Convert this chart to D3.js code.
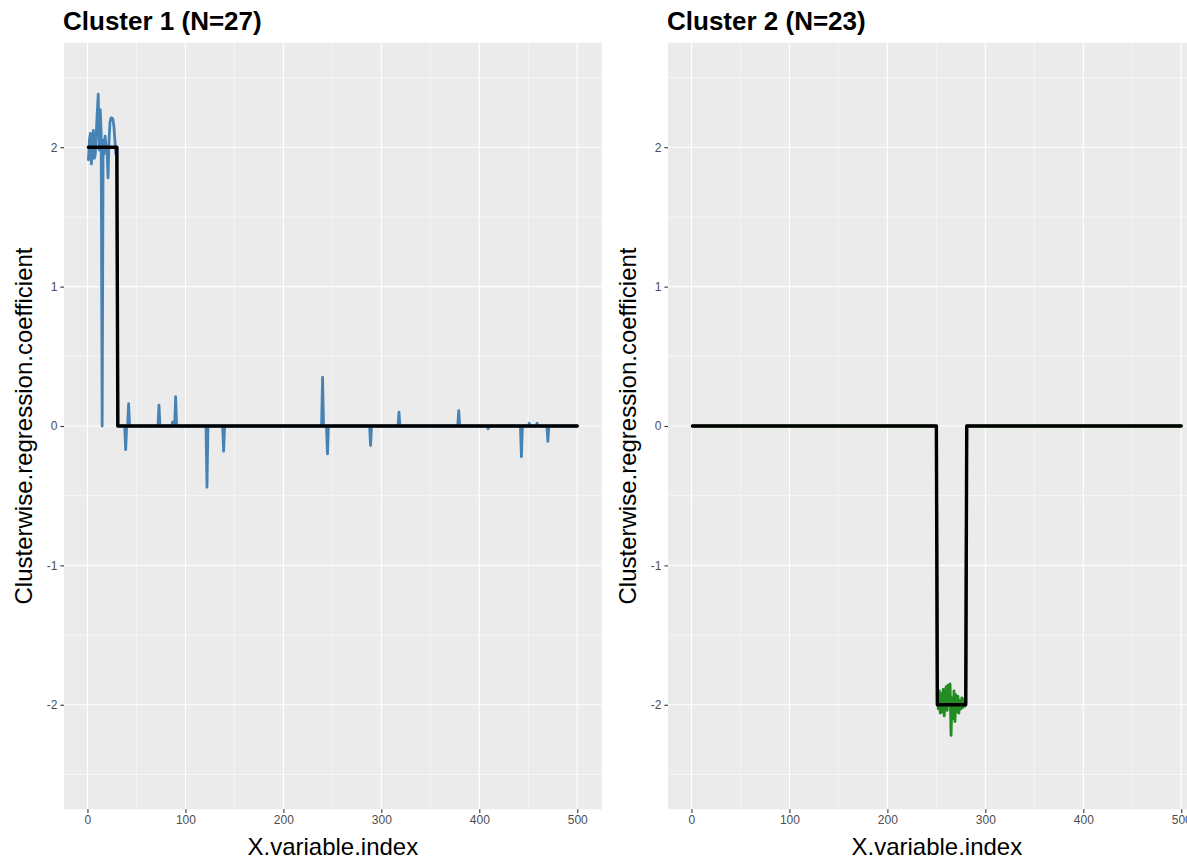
<!DOCTYPE html>
<html>
<head>
    <meta charset="utf-8">
    <title>Clusterwise regression coefficients</title>
    <script type="text/javascript" src="https://cdn.jsdelivr.net/npm/d3@7"></script>
    <style>
        body { margin: 0; background: #fff; }
        svg text { font-family: "Liberation Sans", Arial, Helvetica, sans-serif; }
        .panel-bg { fill: #EBEBEB; }
        .grid-major { stroke: #fff; stroke-width: 1.1; }
        .grid-minor { stroke: #fff; stroke-width: 0.55; }
        .axis .tick line { stroke: #333; stroke-width: 1.1; }
        .axis .tick text { fill: #4D4D4D; font-size: 12px; }
        .axis path.domain { display: none; }
        .est-line, .true-line { fill: none; stroke-linejoin: round; stroke-linecap: round; }
    </style>
</head>

<body>

<script type="text/javascript">
    // number of X variables (index 1..500)
    var nVars = 500;

    // cluster 1 - estimated coefficients for variables 1..30
    var c1HeadEst = [1.91, 2.05, 2.10, 1.88, 2.00, 2.12, 1.92, 1.95, 2.10, 2.25,
                     2.38, 1.98, 2.27, 2.10, 0.00, 2.05, 1.95, 2.08, 2.00, 1.98,
                     1.78, 2.05, 2.18, 2.21, 2.21, 2.20, 2.15, 2.05, 1.95, 2.00];
    // cluster 1 - isolated non-zero estimates after variable 30
    var c1SpikeIdx = [39, 42, 73, 87, 90, 122, 139, 240, 245, 289, 318, 379, 409, 443, 451, 459, 470];
    var c1SpikeVal = [-0.17, 0.16, 0.15, 0.03, 0.21, -0.44, -0.18, 0.35, -0.20, -0.14,
                      0.10, 0.11, -0.02, -0.22, 0.02, 0.02, -0.11];

    // cluster 2 - estimated coefficients for variables 251..280
    var c2BlockStart = 251;
    var c2BlockEst = [-1.97, -2.03, -1.90, -2.06, -1.92, -2.05, -1.89, -2.08, -1.93, -1.87,
                      -2.04, -1.86, -1.98, -1.85, -2.22, -1.95, -2.10, -1.90, -2.12, -1.93,
                      -2.05, -1.94, -2.06, -1.97, -2.03, -1.95, -2.02, -1.96, -2.01, -1.98];

    // true coefficients: constant blocks, zero elsewhere
    var c1TrueBlocks = [{from: 1, to: 30, value: 2}];
    var c2TrueBlocks = [{from: 251, to: 280, value: -2}];

    var panelTitles = ["Cluster 1 (N=27)", "Cluster 2 (N=23)"];
    var estColors = ["#4682B4", "#228B22"];
    var xTicks = [0, 100, 200, 300, 400, 500],
        xMinorTicks = [50, 150, 250, 350, 450];
    var yTicks = [-2, -1, 0, 1, 2],
        yMinorTicks = [-2.5, -1.5, -0.5, 0.5, 1.5, 2.5];
    var xTitle = "X.variable.index",
        yTitle = "Clusterwise.regression.coefficient";

    // helpers to turn the sparse readings into full series over 1..nVars
    function zeroSeries() {
        return d3.range(1, nVars + 1).map(function (i) { return {x: i, y: 0}; });
    }
    function blocksToSeries(blocks) {
        var s = zeroSeries();
        blocks.forEach(function (b) {
            for (var i = b.from; i <= b.to; ++i) s[i - 1].y = b.value;
        });
        return s;
    }

    var est1 = zeroSeries();
    c1HeadEst.forEach(function (v, k) { est1[k].y = v; });
    c1SpikeIdx.forEach(function (idx, k) { est1[idx - 1].y = c1SpikeVal[k]; });

    var est2 = zeroSeries();
    c2BlockEst.forEach(function (v, k) { est2[c2BlockStart - 1 + k].y = v; });

    var panels = [
        {title: panelTitles[0], est: est1, truth: blocksToSeries(c1TrueBlocks), color: estColors[0]},
        {title: panelTitles[1], est: est2, truth: blocksToSeries(c2TrueBlocks), color: estColors[1]}
    ];

    var width = 1187, height = 859;
    var panelTop = 42.7, panelBottom = 809.3, panelWidth = 537.7;
    var panelLefts = [64, 668];

    var svg = d3.select("body").append("svg")
            .attr("width", width)
            .attr("height", height);

    // shared scales (ggplot style 5% expansion)
    var x = d3.scaleLinear().domain([1 - 0.05 * 499, 500 + 0.05 * 499]).range([0, panelWidth]);
    var y = d3.scaleLinear().domain([-2.75, 2.75]).range([panelBottom - panelTop, 0]);

    var line = d3.line()
            .x(function (d) { return x(d.x); })
            .y(function (d) { return y(d.y); });

    // plain labels with an ascii hyphen for negatives
    function plainLabel(d) { return String(d); }

    panels.forEach(function (p, i) {
        var left = panelLefts[i];
        var ph = panelBottom - panelTop;

        var g = svg.append("g")
                .attr("transform", "translate(" + left + "," + panelTop + ")");

        g.append("rect")
                .attr("class", "panel-bg")
                .attr("width", panelWidth)
                .attr("height", ph);

        // gridlines, minor first
        g.selectAll("line.gx-minor").data(xMinorTicks).enter().append("line")
                .attr("class", "grid-minor")
                .attr("x1", x).attr("x2", x).attr("y1", 0).attr("y2", ph);
        g.selectAll("line.gy-minor").data(yMinorTicks).enter().append("line")
                .attr("class", "grid-minor")
                .attr("y1", y).attr("y2", y).attr("x1", 0).attr("x2", panelWidth);
        g.selectAll("line.gx-major").data(xTicks).enter().append("line")
                .attr("class", "grid-major")
                .attr("x1", x).attr("x2", x).attr("y1", 0).attr("y2", ph);
        g.selectAll("line.gy-major").data(yTicks).enter().append("line")
                .attr("class", "grid-major")
                .attr("y1", y).attr("y2", y).attr("x1", 0).attr("x2", panelWidth);

        // estimated coefficients
        g.append("path")
                .datum(p.est)
                .attr("class", "est-line")
                .attr("stroke", p.color)
                .attr("stroke-width", 2.8)
                .attr("d", line);

        // true coefficients on top
        g.append("path")
                .datum(p.truth)
                .attr("class", "true-line")
                .attr("stroke", "#000")
                .attr("stroke-width", 3.4)
                .attr("d", line);

        // axes
        g.append("g")
                .attr("class", "x axis")
                .attr("transform", "translate(0," + ph + ")")
                .call(d3.axisBottom(x).tickValues(xTicks).tickFormat(plainLabel)
                        .tickSize(3.6).tickPadding(3));
        g.append("g")
                .attr("class", "y axis")
                .call(d3.axisLeft(y).tickValues(yTicks).tickFormat(plainLabel)
                        .tickSize(3.6).tickPadding(3));

        // titles
        svg.append("text")
                .attr("x", left - 1)
                .attr("y", 30)
                .style("font-size", "26px")
                .style("font-weight", "bold")
                .text(p.title);

        svg.append("text")
                .attr("x", left + panelWidth / 2)
                .attr("y", 855)
                .attr("text-anchor", "middle")
                .style("font-size", "24px")
                .text(xTitle);

        svg.append("text")
                .attr("transform", "translate(" + (left - 32) + "," + (panelTop + ph / 2) + ") rotate(-90)")
                .attr("text-anchor", "middle")
                .style("font-size", "24px")
                .text(yTitle);
    });
</script>

</body>

</html>
